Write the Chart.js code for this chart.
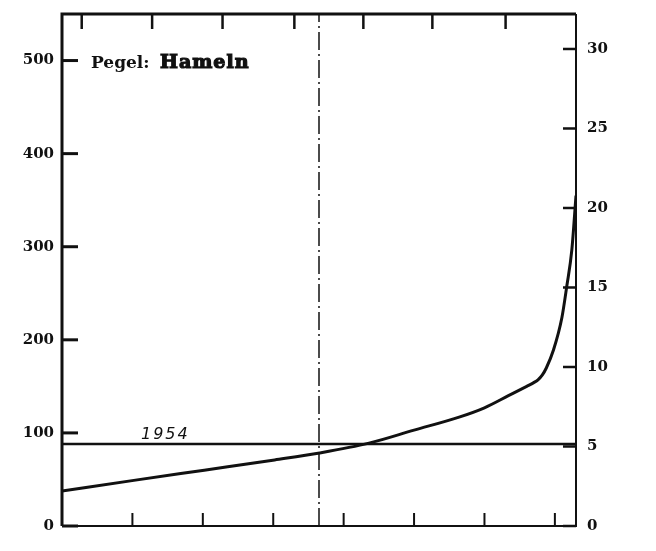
<!DOCTYPE html>
<html>
<head>
<meta charset="utf-8">
<script src="https://cdn.jsdelivr.net/npm/chart.js@4"></script>
<style>
  body { margin: 0; background: #fff; }
  #chart { display: block; }
</style>
</head>
<body>
<canvas id="chart" width="656" height="551"></canvas>
<script>
// Dauerlinie, Pegel Hameln (days of the year vs. level)
const days = [0, 51, 101, 151, 183, 218, 250, 282, 300, 317, 330, 335, 338, 341, 344, 349, 355, 358.5, 362, 365];
const levels = [37.5, 49, 60, 71, 78.5, 89, 103, 117, 127, 140, 150, 154, 157, 162, 170, 189, 224, 258, 296, 355];

const line1954 = 88;
const midYear = 182.5;

const leftTicks = [0, 100, 200, 300, 400, 500];
const rightTicks = [0, 5, 10, 15, 20, 25, 30];
const bottomTicks = [50, 100, 150, 200, 250, 300, 350];
const topTicks = [14, 64, 114, 165, 214, 263, 315];

const ink = '#111';

const frame = {
  id: 'frame',
  afterDatasetsDraw(chart) {
    const { ctx, chartArea: a, scales } = chart;
    const x = scales.x, y = scales.y, y2 = scales.y2;
    ctx.save();
    ctx.strokeStyle = ink;
    ctx.lineCap = 'butt';

    // border
    ctx.lineWidth = 3;
    ctx.beginPath();
    ctx.moveTo(a.left, a.bottom);
    ctx.lineTo(a.left, a.top);
    ctx.lineTo(a.right, a.top);
    ctx.stroke();
    ctx.lineWidth = 2;
    ctx.beginPath();
    ctx.moveTo(a.right, a.top);
    ctx.lineTo(a.right, a.bottom);
    ctx.lineTo(a.left, a.bottom);
    ctx.stroke();

    // inward tick marks
    ctx.lineWidth = 3;
    leftTicks.forEach(v => {
      const py = y.getPixelForValue(v);
      ctx.beginPath(); ctx.moveTo(a.left, py); ctx.lineTo(a.left + 16, py); ctx.stroke();
    });
    ctx.lineWidth = 2.5;
    rightTicks.forEach(v => {
      const py = y2.getPixelForValue(v);
      ctx.beginPath(); ctx.moveTo(a.right, py); ctx.lineTo(a.right - 13, py); ctx.stroke();
    });
    ctx.lineWidth = 2;
    bottomTicks.forEach(v => {
      const px = x.getPixelForValue(v);
      ctx.beginPath(); ctx.moveTo(px, a.bottom); ctx.lineTo(px, a.bottom - 13); ctx.stroke();
    });
    ctx.lineWidth = 2.5;
    topTicks.forEach(v => {
      const px = x.getPixelForValue(v);
      ctx.beginPath(); ctx.moveTo(px, a.top); ctx.lineTo(px, a.top + 15); ctx.stroke();
    });

    // labels
    ctx.fillStyle = ink;
    ctx.textBaseline = 'alphabetic';
    ctx.textAlign = 'left';
    ctx.font = 'bold 17px "DejaVu Serif"';
    ctx.fillText('Pegel:', a.left + 29, 68);
    ctx.font = 'bold 19px "DejaVu Serif"';
    ctx.letterSpacing = '1px';
    ctx.fillText('Hameln', a.left + 98, 68);
    ctx.lineWidth = 1.2;
    ctx.strokeText('Hameln', a.left + 98, 68);
    ctx.letterSpacing = '2px';
    ctx.font = 'italic 16px "DejaVu Sans"';
    ctx.fillText('1954', 141, y.getPixelForValue(line1954) - 5);
    ctx.restore();
  }
};

new Chart(document.getElementById('chart'), {
  type: 'scatter',
  data: {
    datasets: [
      {
        data: days.map((d, i) => ({ x: d, y: levels[i] })),
        showLine: true,
        borderColor: ink,
        borderWidth: 3,
        pointRadius: 0,
        cubicInterpolationMode: 'monotone',
        yAxisID: 'y'
      },
      {
        data: [{ x: 0, y: line1954 }, { x: 365, y: line1954 }],
        showLine: true,
        borderColor: ink,
        borderWidth: 2.5,
        pointRadius: 0,
        yAxisID: 'y'
      },
      {
        data: [{ x: midYear, y: 0 }, { x: midYear, y: 550 }],
        showLine: true,
        borderColor: ink,
        borderWidth: 1.5,
        borderDash: [18, 4, 2, 4],
        pointRadius: 0,
        yAxisID: 'y'
      }
    ]
  },
  options: {
    responsive: false,
    animation: false,
    layout: { padding: { top: 14, left: 0, right: 0, bottom: 0 } },
    plugins: { legend: { display: false }, tooltip: { enabled: false } },
    scales: {
      x: {
        type: 'linear',
        min: 0,
        max: 365,
        grid: { display: false },
        border: { display: false },
        ticks: { display: false },
        afterFit: (s) => { s.height = 25; }
      },
      y: {
        position: 'left',
        min: 0,
        max: 550,
        grid: { display: false },
        border: { display: false },
        afterBuildTicks: (s) => { s.ticks = leftTicks.map(v => ({ value: v })); },
        ticks: {
          color: ink,
          padding: 0,
          font: { family: 'DejaVu Serif', size: 15, weight: 'bold' }
        },
        afterFit: (s) => { s.width = 62; }
      },
      y2: {
        position: 'right',
        min: 0,
        max: 32.2,
        grid: { display: false },
        border: { display: false },
        afterBuildTicks: (s) => { s.ticks = rightTicks.map(v => ({ value: v })); },
        ticks: {
          color: ink,
          padding: 3,
          font: { family: 'DejaVu Serif', size: 15, weight: 'bold' }
        },
        afterFit: (s) => { s.width = 80; }
      }
    }
  },
  plugins: [frame]
});
</script>
</body>
</html>
